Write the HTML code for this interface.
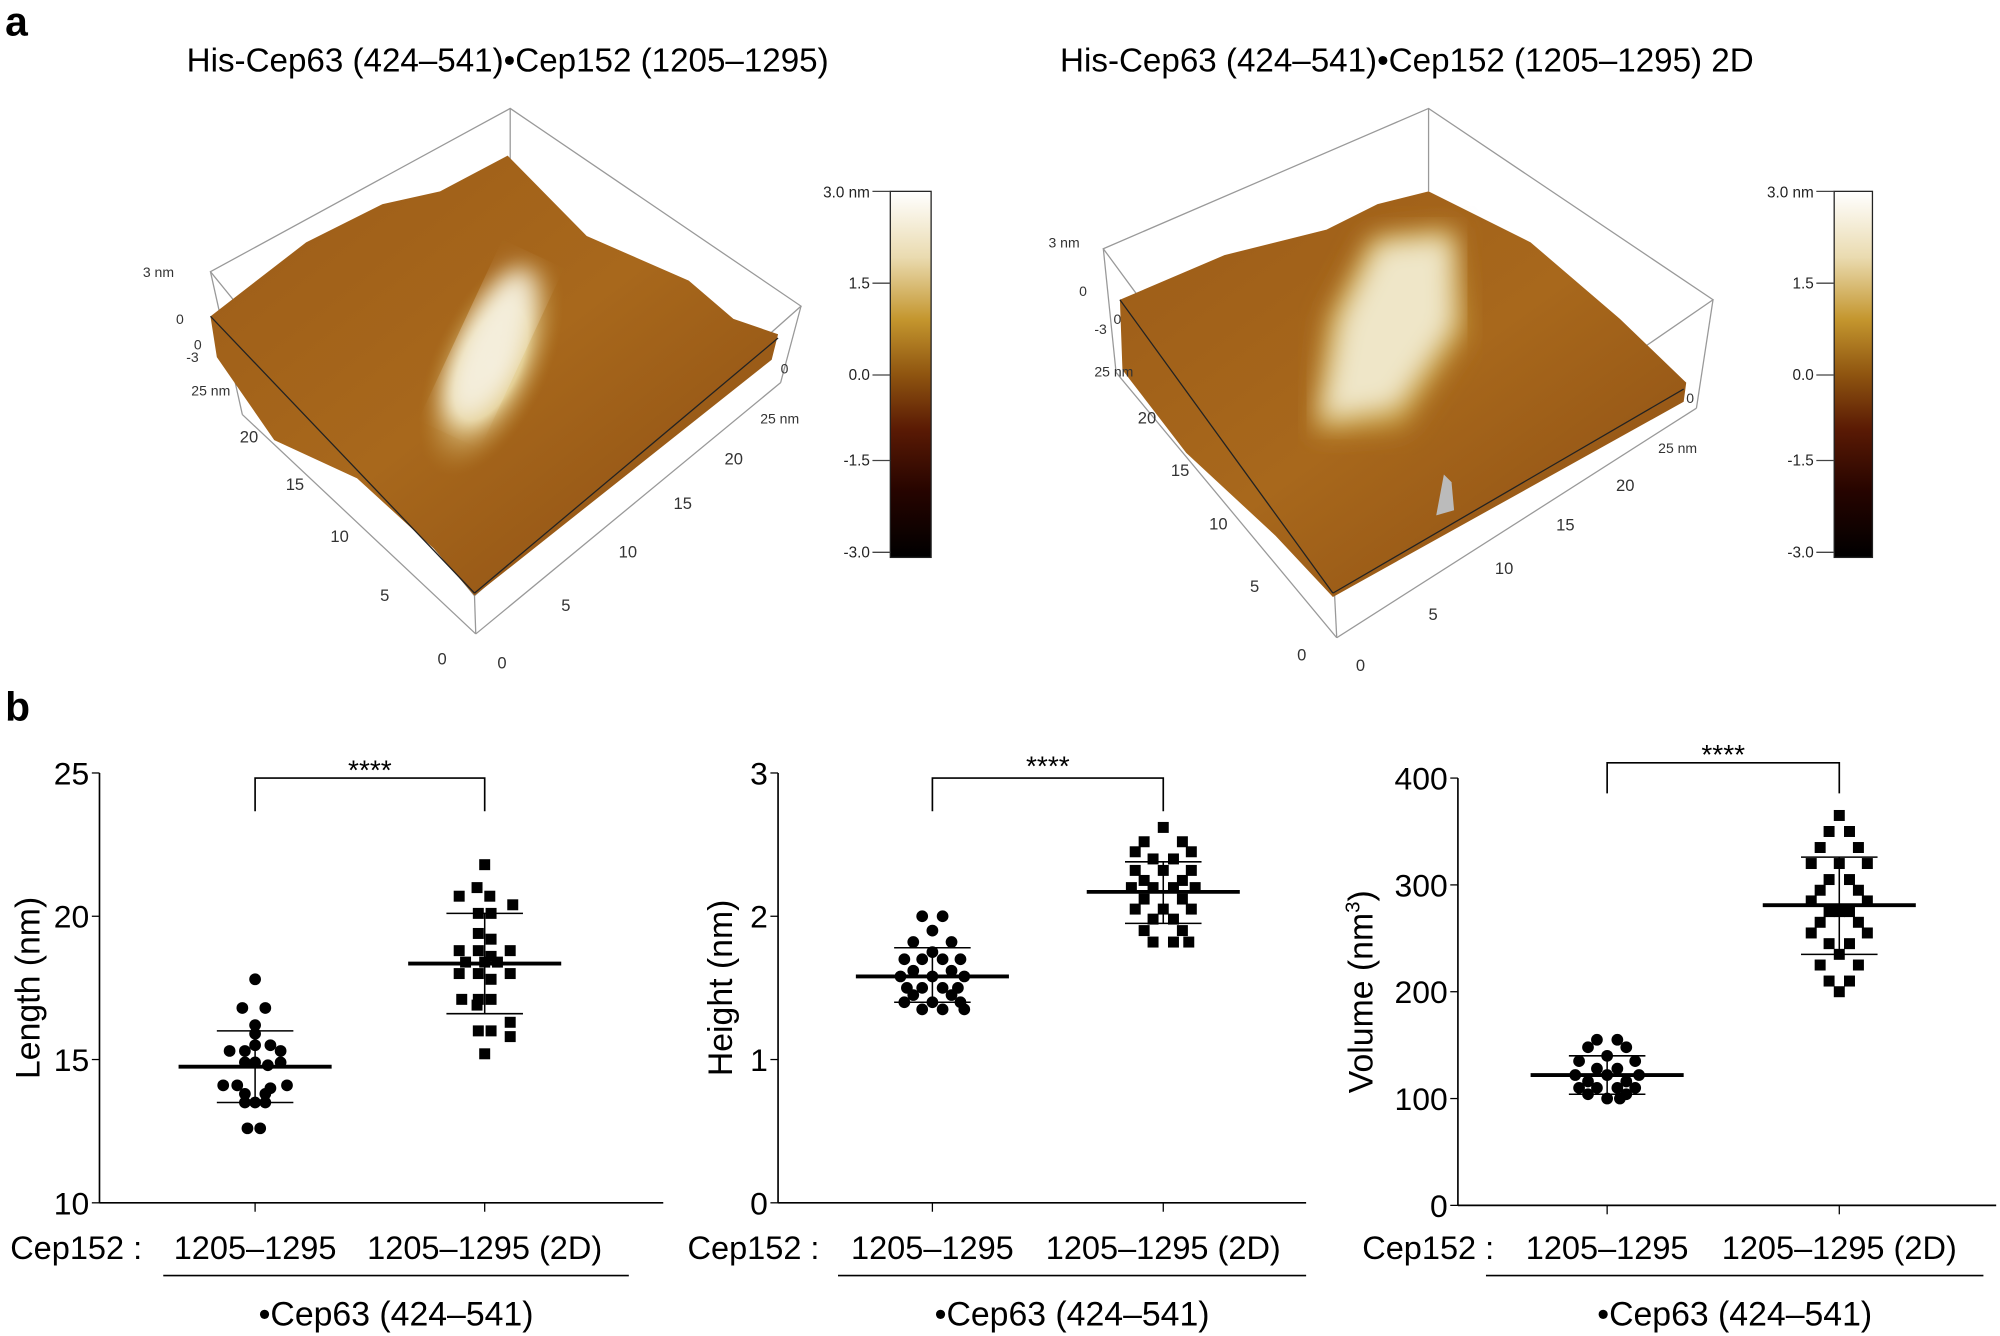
<!DOCTYPE html>
<html><head><meta charset="utf-8"><style>
html,body{margin:0;padding:0;background:#fff;}
svg{display:block;font-family:"Liberation Sans",Arial,sans-serif;}
</style></head><body>
<svg id="s" width="2000" height="1336" viewBox="0 0 1568 1047.4" xmlns="http://www.w3.org/2000/svg">
<defs>
<linearGradient id="cb" x1="0" y1="0" x2="0" y2="1">
<stop offset="0" stop-color="#ffffff"/><stop offset="0.18" stop-color="#eadbb0"/>
<stop offset="0.35" stop-color="#c4962e"/><stop offset="0.5" stop-color="#8f5510"/>
<stop offset="0.65" stop-color="#5a1a04"/><stop offset="0.82" stop-color="#260400"/>
<stop offset="1" stop-color="#000"/></linearGradient>
<radialGradient id="r1" cx="0.5" cy="0.5" r="0.5"><stop offset="0" stop-color="#f6f0df"/><stop offset="0.5" stop-color="#e4cf95"/><stop offset="1" stop-color="#b07a25" stop-opacity="0"/></radialGradient>
<linearGradient id="s1" x1="0" y1="0" x2="1" y2="1"><stop offset="0" stop-color="#9c5c18"/><stop offset="0.5" stop-color="#a8681c"/><stop offset="1" stop-color="#8a4c12"/></linearGradient>
<filter id="bl"><feGaussianBlur stdDeviation="10"/></filter>
</defs>
<text x="4" y="28" font-size="32" font-weight="bold">a</text>
<text x="4" y="565" font-size="32" font-weight="bold">b</text>
<text x="398" y="56" font-size="26" text-anchor="middle">His-Cep63 (424–541)•Cep152 (1205–1295)</text>
<text x="1103" y="56" font-size="26" text-anchor="middle">His-Cep63 (424–541)•Cep152 (1205–1295) 2D</text>

<!-- left 3D -->
<g stroke="#999" stroke-width="1" fill="none">
<polygon points="165,213 400,85 628,240 372,467"/>
<line x1="400" y1="85" x2="400" y2="150"/><line x1="628" y1="240" x2="612" y2="300"/>
<line x1="165" y1="213" x2="190" y2="325"/><line x1="372" y1="467" x2="373" y2="497"/>
<line x1="190" y1="325" x2="373" y2="497"/><line x1="373" y1="497" x2="612" y2="300"/>
</g>
<polygon points="165,248 240,190 300,160 345,150 398,122 460,185 540,220 575,250 610,262 605,282 372,467 340,430 280,375 215,345 170,280" fill="url(#s1)"/>
<ellipse cx="385" cy="285" rx="45" ry="95" transform="rotate(25 385 285)" fill="url(#r1)"/>
<ellipse cx="385" cy="270" rx="22" ry="65" transform="rotate(25 385 270)" fill="#f4eedc" filter="url(#bl)"/>
<line x1="165" y1="248" x2="372" y2="465" stroke="#222" stroke-width="1"/>
<line x1="372" y1="465" x2="610" y2="265" stroke="#222" stroke-width="1"/>
<g font-size="11" fill="#333">
<text x="112" y="217">3 nm</text><text x="138" y="254">0</text><text x="152" y="274">0</text><text x="146" y="284">-3</text>
<text x="150" y="310">25 nm</text><text x="188" y="347" font-size="13">20</text><text x="224" y="384" font-size="13">15</text>
<text x="259" y="425" font-size="13">10</text><text x="298" y="471" font-size="13">5</text><text x="343" y="521" font-size="13">0</text>
<text x="390" y="524" font-size="13">0</text><text x="440" y="479" font-size="13">5</text><text x="485" y="437" font-size="13">10</text>
<text x="528" y="399" font-size="13">15</text><text x="568" y="364" font-size="13">20</text><text x="596" y="332">25 nm</text><text x="612" y="293">0</text>
</g>
<rect x="698" y="150" width="32" height="287" fill="url(#cb)" stroke="#222"/>
<g font-size="12" fill="#222" text-anchor="end"><text x="682" y="155">3.0 nm</text><text x="682" y="226">1.5</text><text x="682" y="298">0.0</text><text x="682" y="365">-1.5</text><text x="682" y="437">-3.0</text></g>
<g stroke="#444"><line x1="684" y1="150" x2="698" y2="150"/><line x1="684" y1="222" x2="698" y2="222"/><line x1="684" y1="294" x2="698" y2="294"/><line x1="684" y1="361" x2="698" y2="361"/><line x1="684" y1="433" x2="698" y2="433"/></g>

<!-- right 3D -->
<g stroke="#999" stroke-width="1" fill="none">
<polygon points="865,195 1120,85 1343,235 1045,440"/>
<line x1="1120" y1="85" x2="1120" y2="150"/><line x1="1343" y1="235" x2="1330" y2="320"/>
<line x1="865" y1="195" x2="875" y2="292"/><line x1="1045" y1="440" x2="1048" y2="500"/>
<line x1="875" y1="292" x2="1048" y2="500"/><line x1="1048" y1="500" x2="1330" y2="320"/>
</g>
<polygon points="878,235 960,200 1040,180 1080,160 1120,150 1200,190 1270,250 1322,300 1320,315 1045,468 1000,420 930,355 880,290" fill="url(#s1)"/>
<polygon points="1075,185 1140,178 1150,260 1100,335 1030,340 1040,250" fill="#c49a3e" filter="url(#bl)"/>
<polygon points="1080,190 1138,185 1140,255 1095,320 1035,330 1050,250" fill="#efe6c8" filter="url(#bl)"/>
<polygon points="1132,372 1138,378 1140,400 1126,404" fill="#bbb"/>
<line x1="878" y1="235" x2="1045" y2="465" stroke="#222"/><line x1="1045" y1="465" x2="1320" y2="305" stroke="#222"/>
<g font-size="11" fill="#333">
<text x="822" y="194">3 nm</text><text x="846" y="232">0</text><text x="873" y="254">0</text><text x="858" y="262">-3</text>
<text x="858" y="295">25 nm</text><text x="892" y="332" font-size="13">20</text><text x="918" y="373" font-size="13">15</text>
<text x="948" y="415" font-size="13">10</text><text x="980" y="464" font-size="13">5</text><text x="1017" y="518" font-size="13">0</text>
<text x="1063" y="526" font-size="13">0</text><text x="1120" y="486" font-size="13">5</text><text x="1172" y="450" font-size="13">10</text>
<text x="1220" y="416" font-size="13">15</text><text x="1267" y="385" font-size="13">20</text><text x="1300" y="355">25 nm</text><text x="1322" y="316">0</text>
</g>
<rect x="1438" y="150" width="30" height="287" fill="url(#cb)" stroke="#222"/>
<g font-size="12" fill="#222" text-anchor="end"><text x="1422" y="155">3.0 nm</text><text x="1422" y="226">1.5</text><text x="1422" y="298">0.0</text><text x="1422" y="365">-1.5</text><text x="1422" y="437">-3.0</text></g>
<g stroke="#444"><line x1="1424" y1="150" x2="1438" y2="150"/><line x1="1424" y1="222" x2="1438" y2="222"/><line x1="1424" y1="294" x2="1438" y2="294"/><line x1="1424" y1="361" x2="1438" y2="361"/><line x1="1424" y1="433" x2="1438" y2="433"/></g>
<g id="plots"></g>
</svg>
<script>
var NS="http://www.w3.org/2000/svg",G=document.getElementById("plots");
function el(t,a,txt){var e=document.createElementNS(NS,t);for(var k in a)e.setAttribute(k,a[k]);if(txt!==undefined)e.textContent=txt;G.appendChild(e);return e;}
var P=[
{ax:78,xe:520,yt:606,yb:943,v0:10,v1:25,ticks:[10,15,20,25],lab:"Length (nm)",lx:22,c:[200,380],br:610,brb:636,st:597,ll:[128,493],sup:false,
g1:[[17.8,[0]],[16.8,[-10,8]],[16.2,[0]],[15.9,[0]],[15.5,[0,12]],[15.3,[-20,-8,20]],[14.9,[-8,0,20]],[14.8,[10]],[14.1,[-25,-14,25]],[14.0,[12]],[13.8,[-8,8]],[13.5,[-8,0,8]],[12.6,[-6,4]]],
m1:[14.75,13.5,16.0],
g2:[[21.8,[0]],[21.0,[-6]],[20.7,[-20,4]],[20.4,[22]],[20.1,[-5,5]],[19.4,[-5]],[19.2,[5]],[18.8,[-20,-5,20]],[18.6,[5]],[18.4,[-15,0,10]],[18.0,[-20,-5,20]],[17.8,[5]],[17.1,[-18,-5,5]],[16.9,[-6]],[16.3,[20]],[16.0,[-5,5]],[15.8,[20]],[15.2,[0]]],
m2:[18.35,16.6,20.1]},
{ax:610,xe:1024,yt:606,yb:943,v0:0,v1:3,ticks:[0,1,2,3],lab:"Height (nm)",lx:565,c:[731,912],br:610,brb:636,st:594,ll:[657,1024],sup:false,
g1:[[2.0,[-8,8]],[1.9,[0]],[1.82,[-15,15]],[1.75,[0]],[1.7,[-22,-8,8,22]],[1.62,[-15,15]],[1.58,[-25,0,25]],[1.5,[-20,-8,8,20]],[1.45,[-15,15]],[1.4,[-22,0,22]],[1.35,[-8,8,25]]],
m1:[1.58,1.4,1.78],
g2:[[2.62,[0]],[2.52,[-15,15]],[2.45,[-22,22]],[2.4,[-8,8]],[2.32,[-22,0,22]],[2.25,[-15,15]],[2.2,[-25,-8,8,25]],[2.12,[-15,15]],[2.05,[-22,0,22]],[1.98,[-8,8]],[1.9,[-15,15]],[1.82,[-8,8,20]]],
m2:[2.17,1.95,2.38]},
{ax:1143,xe:1565,yt:610,yb:945,v0:0,v1:400,ticks:[0,100,200,300,400],lab:"Volume (nm",lx:1067,c:[1260,1442],br:598,brb:622,st:585,ll:[1165,1555],sup:true,
g1:[[155,[-8,8]],[148,[-15,15]],[140,[0]],[135,[-22,22]],[128,[-8,8]],[122,[-25,0,25]],[116,[-15,15]],[110,[-22,-8,8,22]],[104,[-15,15]],[100,[0,10]]],
m1:[122,104,140],
g2:[[365,[0]],[350,[-8,8]],[335,[-15,15]],[320,[-22,0,22]],[305,[-8,8]],[295,[-15,15]],[285,[-22,22]],[275,[-8,0,8]],[265,[-15,15]],[255,[-22,22]],[245,[-8,8]],[235,[0]],[225,[-15,15]],[210,[-8,8]],[200,[0]]],
m2:[281,235,326]}];
P.forEach(function(p){
 function Y(v){return p.yb-(v-p.v0)/(p.v1-p.v0)*(p.yb-p.yt);}
 el("line",{x1:p.ax,y1:p.yt,x2:p.ax,y2:p.yb,stroke:"#000","stroke-width":1.3});
 el("line",{x1:p.ax,y1:p.yb,x2:p.xe,y2:p.yb,stroke:"#000","stroke-width":1.3});
 p.ticks.forEach(function(t){var y=Y(t);el("line",{x1:p.ax-6,y1:y,x2:p.ax,y2:y,stroke:"#000"});el("text",{x:p.ax-8,y:y+9,"font-size":25,"text-anchor":"end"},t);});
 p.c.forEach(function(cx){el("line",{x1:cx,y1:p.yb,x2:cx,y2:p.yb+7,stroke:"#000"});});
 var t=el("text",{x:0,y:0,"font-size":26.5,"text-anchor":"middle",transform:"translate("+(p.lx+9)+","+((p.yt+p.yb)/2)+") rotate(-90)"},p.lab);
 if(p.sup){var ts=document.createElementNS(NS,"tspan");ts.setAttribute("font-size","16");ts.setAttribute("dy","-10");ts.textContent="3";t.appendChild(ts);var t2=document.createElementNS(NS,"tspan");t2.setAttribute("dy","10");t2.textContent=")";t.appendChild(t2);}
 el("path",{d:"M"+p.c[0]+" "+p.brb+"V"+p.br+"H"+p.c[1]+"V"+p.brb,fill:"none",stroke:"#000","stroke-width":1.3});
 el("text",{x:(p.c[0]+p.c[1])/2,y:p.st+14,"font-size":22,"text-anchor":"middle"},"****");
 [[p.g1,p.m1,p.c[0],0],[p.g2,p.m2,p.c[1],1]].forEach(function(g){
  g[0].forEach(function(r){r[1].forEach(function(dx){var x=g[2]+dx,y=Y(r[0]);
   if(g[3])el("rect",{x:x-4.3,y:y-4.3,width:8.6,height:8.6,fill:"#000"});else el("circle",{cx:x,cy:y,r:4.6,fill:"#000"});});});
  var m=g[1],cx=g[2];
  el("line",{x1:cx,y1:Y(m[1]),x2:cx,y2:Y(m[2]),stroke:"#000","stroke-width":1.2});
  el("line",{x1:cx-30,y1:Y(m[1]),x2:cx+30,y2:Y(m[1]),stroke:"#000","stroke-width":1.2});
  el("line",{x1:cx-30,y1:Y(m[2]),x2:cx+30,y2:Y(m[2]),stroke:"#000","stroke-width":1.2});
  el("line",{x1:cx-60,y1:Y(m[0]),x2:cx+60,y2:Y(m[0]),stroke:"#000","stroke-width":3});
 });
 el("text",{x:p.c[0]-192,y:987,"font-size":25.5},"Cep152 :");
 el("text",{x:p.c[0],y:987,"font-size":25.5,"text-anchor":"middle"},"1205–1295");
 el("text",{x:p.c[1],y:987,"font-size":25.5,"text-anchor":"middle"},"1205–1295 (2D)");
 el("line",{x1:p.ll[0],y1:1000,x2:p.ll[1],y2:1000,stroke:"#000","stroke-width":1.3});
 el("text",{x:(p.ll[0]+p.ll[1])/2,y:1039,"font-size":26.5,"text-anchor":"middle"},"•Cep63 (424–541)");
});
</script>
</body></html>
